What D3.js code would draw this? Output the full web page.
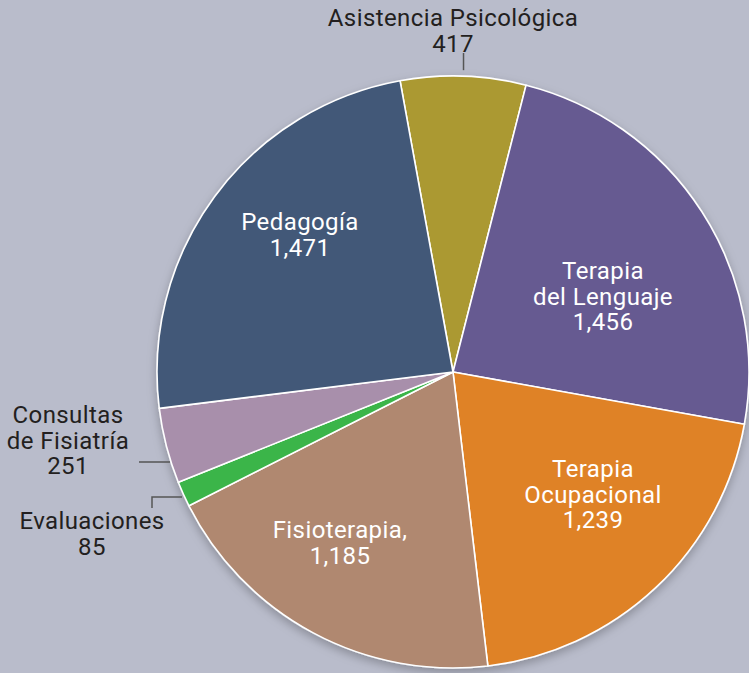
<!DOCTYPE html>
<html>
<head>
<meta charset="utf-8" />
<script src="https://d3js.org/d3.v7.min.js"></script>
<style>
  body { margin: 0; background: #b9bccb; }
  svg { display: block; }
  text { font-family: Roboto, "Noto Sans", sans-serif; font-size: 24px; letter-spacing: 0.4px; }
</style>
</head>
<body>
<div id="chart"></div>
<script>
// data
const categories = ["Asistencia Psicológica", "Terapia del Lenguaje", "Terapia Ocupacional",
  "Fisioterapia", "Evaluaciones", "Consultas de Fisiatría", "Pedagogía"];
const values = [417, 1456, 1239, 1185, 85, 251, 1471];
const labelLines = [
  ["Asistencia Psicológica", "417"],
  ["Terapia", "del Lenguaje", "1,456"],
  ["Terapia", "Ocupacional", "1,239"],
  ["Fisioterapia,", "1,185"],
  ["Evaluaciones", "85"],
  ["Consultas", "de Fisiatría", "251"],
  ["Pedagogía", "1,471"]
];
const colors = ["#ab9933", "#665a91", "#df8226", "#b08870", "#3bb54a", "#a88fab", "#435978"];

const width = 749, height = 673;
const cx = 453, cy = 372, radius = 296;

// label placement (center of first baseline, relative to pie center) and text colour
const labelPos = [
  { x: 0, y: -346, fill: "#231f20" },
  { x: 150, y: -93, fill: "#fff" },
  { x: 140, y: 105, fill: "#fff" },
  { x: -113, y: 166, fill: "#fff" },
  { x: -361, y: 157, fill: "#231f20" },
  { x: -385, y: 51, fill: "#231f20" },
  { x: -153, y: -142, fill: "#fff" }
];
const lineGap = 25.5;

const svg = d3.select("#chart").append("svg")
  .attr("width", width)
  .attr("height", height);

const defs = svg.append("defs");
const f = defs.append("filter").attr("id", "shadow")
  .attr("x", "-20%").attr("y", "-20%").attr("width", "140%").attr("height", "140%");
f.append("feDropShadow").attr("dx", 0).attr("dy", 4).attr("stdDeviation", 5)
  .attr("flood-color", "#000").attr("flood-opacity", 0.25);

const g = svg.append("g").attr("transform", `translate(${cx},${cy})`);

const startAngle = -10.3 * Math.PI / 180;
const pie = d3.pie().sort(null)
  .startAngle(startAngle).endAngle(startAngle + 2 * Math.PI)
  .value(d => d);
const arcs = pie(values);
const arc = d3.arc().innerRadius(0).outerRadius(radius);

g.append("g").attr("filter", "url(#shadow)")
  .selectAll("path")
  .data(arcs)
  .join("path")
  .attr("d", arc)
  .attr("fill", (d, i) => colors[i])
  .attr("stroke", "#fff")
  .attr("stroke-width", 1.6)
  .attr("stroke-linejoin", "round");

// leader lines for the outside labels
const lines = g.append("g").attr("stroke", "#555").attr("stroke-width", 1.5).attr("fill", "none");
const a0 = (arcs[0].startAngle + arcs[0].endAngle) / 2;
lines.append("path").attr("d", `M${Math.sin(a0) * (radius + 6)},${-Math.cos(a0) * (radius + 6)}V${-319}`);
lines.append("path").attr("d", "M-314,90H-283");
lines.append("path").attr("d", "M-301,136V125H-271");

const labels = g.append("g").attr("text-anchor", "middle");
labelLines.forEach((ls, i) => {
  const p = labelPos[i];
  const t = labels.append("text")
    .attr("x", p.x).attr("y", p.y)
    .attr("fill", p.fill);
  ls.forEach((s, j) => {
    t.append("tspan").attr("x", p.x).attr("dy", j === 0 ? 0 : lineGap).text(s);
  });
});
</script>
</body>
</html>
